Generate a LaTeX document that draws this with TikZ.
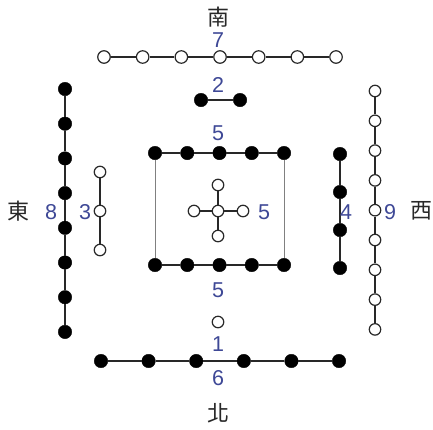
\documentclass[tikz,border=0pt]{standalone}
\usepackage{fontspec}
\setmainfont{Liberation Sans}
\newfontfamily\cjkfont{Noto Sans CJK TC}
\definecolor{numblue}{RGB}{62,72,150}
\definecolor{inkgray}{RGB}{40,40,40}
\tikzset{
  blk/.style={circle, fill=black, draw=black, minimum size=13.5pt, inner sep=0pt},
  wht/.style={circle, fill=white, draw=inkgray, line width=1.2pt, minimum size=12.5pt, inner sep=0pt},
  whts/.style={wht, minimum size=11.5pt},
  num/.style={text=numblue, font=\fontsize{21.5}{21.5}\selectfont, inner sep=0pt},
  dir/.style={text=inkgray, font=\cjkfont\fontsize{22}{22}\selectfont, inner sep=0pt},
  link/.style={draw=inkgray, line width=1.3pt},
  frame/.style={draw=gray, line width=0.9pt}
}
\begin{document}
\begin{tikzpicture}[x=1pt, y=-1pt]
\useasboundingbox (0,0) rectangle (433,429);

% south: seven open dots
\foreach \i in {0,...,6} \node[wht] (s\i) at ({104+38.67*\i},57) {};
\foreach \i [remember=\i as \j (initially 0)] in {1,...,6} \draw[link] (s\j) -- (s\i);

% two filled dots
\node[blk] (t0) at (201,100) {};
\node[blk] (t1) at (240,100) {};
\draw[link] (t0) -- (t1);

% central square: ten filled dots
\foreach \i in {0,...,4} {
  \node[blk] (c\i) at ({155+32.25*\i},153) {};
  \node[blk] (d\i) at ({155+32.25*\i},265) {};
}
\foreach \i [remember=\i as \j (initially 0)] in {1,...,4} {
  \draw[link] (c\j) -- (c\i);
  \draw[link] (d\j) -- (d\i);
}
\draw[frame] (c0) -- (d0);
\draw[frame] (c4) -- (d4);

% central cross: five open dots
\node[whts] (m) at (218,211) {};
\node[whts] (mu) at (218,185) {};
\node[whts] (md) at (218,236) {};
\node[whts] (ml) at (194,211) {};
\node[whts] (mr) at (243,211) {};
\foreach \n in {mu,md,ml,mr} \draw[link, line width=1.1pt] (m) -- (\n);

% single open dot
\node[whts] (one) at (218,322) {};

% north: six filled dots
\foreach \i in {0,...,5} \node[blk] (n\i) at ({101+47.6*\i},361) {};
\foreach \i [remember=\i as \j (initially 0)] in {1,...,5} \draw[link] (n\j) -- (n\i);

% east: eight filled dots
\foreach \i in {0,...,7} \node[blk] (e\i) at (65,{89+34.7*\i}) {};
\foreach \i [remember=\i as \j (initially 0)] in {1,...,7} \draw[link] (e\j) -- (e\i);

% three open dots
\foreach \i in {0,1,2} \node[whts] (h\i) at (100,{172+39*\i}) {};
\draw[link, line width=1.1pt] (h0) -- (h1);
\draw[link, line width=1.1pt] (h1) -- (h2);

% four filled dots
\foreach \i in {0,...,3} \node[blk] (f\i) at (340,{154+38*\i}) {};
\foreach \i [remember=\i as \j (initially 0)] in {1,...,3} \draw[link] (f\j) -- (f\i);

% west: nine open dots
\foreach \i in {0,...,8} \node[whts] (w\i) at (375,{91+29.8*\i}) {};
\foreach \i [remember=\i as \j (initially 0)] in {1,...,8} \draw[link, line width=1.1pt] (w\j) -- (w\i);

% numbers
\node[num] (l7) at (218,40) {7};
\node[num] (l2) at (218,85) {2};
\node[num] (l5a) at (218,133) {5};
\node[num] (l5b) at (264,212) {5};
\node[num] (l5c) at (218,290) {5};
\node[num] (l1) at (218,344) {1};
\node[num] (l6) at (218,378) {6};
\node[num] (l8) at (51,212) {8};
\node[num] (l3) at (85,212) {3};
\node[num] (l4) at (346,212) {4};
\node[num] (l9) at (390,212) {9};

% cardinal directions
\node[dir] (south) at (218,17) {南};
\node[dir] (north) at (218,413) {北};
\node[dir] (east) at (19,211) {東};
\node[dir] (west) at (421,211) {西};
\end{tikzpicture}
\end{document}
